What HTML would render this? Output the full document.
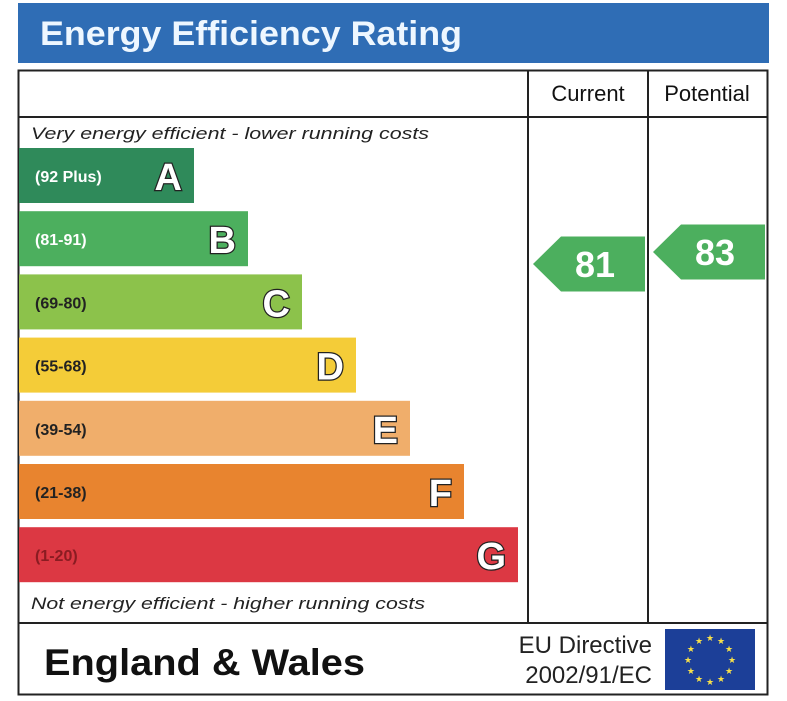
<!DOCTYPE html>
<html><head><meta charset="utf-8"><style>
html,body{margin:0;padding:0;background:#fff;}
svg{display:block;font-family:"Liberation Sans",Arial,sans-serif;}
</style></head><body>
<svg id="c" width="787" height="701" viewBox="0 0 787 701">
<rect x="18" y="3" width="751" height="60" fill="#2f6db5"/>
<text x="40" y="45" font-size="34" font-weight="bold" fill="#eef7ff" textLength="422" lengthAdjust="spacingAndGlyphs">Energy Efficiency Rating</text>
<rect x="18.5" y="70.5" width="749" height="624" fill="none" stroke="#222" stroke-width="2"/>
<line x1="18" y1="117" x2="768" y2="117" stroke="#222" stroke-width="2"/>
<line x1="528" y1="70" x2="528" y2="623" stroke="#222" stroke-width="2"/>
<line x1="648" y1="70" x2="648" y2="623" stroke="#222" stroke-width="2"/>
<line x1="18" y1="623" x2="768" y2="623" stroke="#222" stroke-width="2"/>
<text x="588" y="101" font-size="22" text-anchor="middle" fill="#111">Current</text>
<text x="707" y="101" font-size="22" text-anchor="middle" fill="#111">Potential</text>
<text x="31" y="139" font-size="17" font-style="italic" fill="#222" textLength="398" lengthAdjust="spacingAndGlyphs">Very energy efficient - lower running costs</text>
<text x="31" y="609" font-size="17" font-style="italic" fill="#222" textLength="394" lengthAdjust="spacingAndGlyphs">Not energy efficient - higher running costs</text>
<g id="bars"></g>
<g id="arrows"></g>
<text x="44" y="675" font-size="37" font-weight="bold" fill="#111" textLength="321" lengthAdjust="spacingAndGlyphs">England &amp; Wales</text>
<text x="652" y="653" font-size="24" text-anchor="end" fill="#222">EU Directive</text>
<text x="652" y="683" font-size="24" text-anchor="end" fill="#222">2002/91/EC</text>
<rect x="665" y="629" width="90" height="61" fill="#1c3f98"/>
<g id="stars"></g>
</svg>
<script>
const bandLabels = ["(92 Plus)","(81-91)","(69-80)","(55-68)","(39-54)","(21-38)","(1-20)"];
const bandLetters = ["A","B","C","D","E","F","G"];
const bandColors = ["#2f8a5a","#4caf5e","#8cc24b","#f4cc38","#f0ae6b","#e8842f","#dc3843"];
const ratingSeries = ["Current","Potential"];
const ratingValues = [81,83];
const NS="http://www.w3.org/2000/svg";
function mk(t,a,p){const e=document.createElementNS(NS,t);for(const k in a)e.setAttribute(k,a[k]);p.appendChild(e);return e;}
function bandY(i){return 148+i*63.2;}
function bandW(i){return 175+i*54;}
function valueY(v){return 264-(v-81)*6;}
const bars=document.getElementById('bars');
bandLabels.forEach((lab,i)=>{
  const y=bandY(i),w=bandW(i);
  const r=mk('rect',{x:19,y:y,width:w,height:55,fill:bandColors[i]},bars);
  
  
  const t=mk('text',{x:35,y:y+34,'font-size':16,'font-weight':'bold',fill:i==6?'#8a1c22':(i<2?'#fff':'#222')},bars);
  t.textContent=lab;
  
  
  const L=mk('text',{x:19+w-12,y:y+42,'font-size':38,'font-weight':'bold','text-anchor':'end',fill:'#fff',stroke:'#222','stroke-width':2.5,'paint-order':'stroke'},bars);
  L.textContent=bandLetters[i];
  
  
});
const arrows=document.getElementById('arrows');
const colX=[533,653];
ratingValues.forEach((v,i)=>{
  const yc=valueY(v),x=colX[i],h=55,w=112;
  const p=mk('polygon',{points:`${x},${yc} ${x+28},${yc-h/2} ${x+w},${yc-h/2} ${x+w},${yc+h/2} ${x+28},${yc+h/2}`,fill:'#4caf5e'},arrows);
  
  
  const t=mk('text',{x:x+62,y:yc+13,'font-size':36,'font-weight':'bold','text-anchor':'middle',fill:'#fff'},arrows);
  t.textContent=v;
  
  
});
const stars=document.getElementById('stars');
for(let k=0;k<12;k++){
  const a=k*Math.PI/6;
  const s=mk('text',{x:710+22*Math.sin(a),y:663-22*Math.cos(a),'font-size':9,'text-anchor':'middle',fill:'#f7e04a'},stars);
  s.textContent='★';
  
  
}
</script>
</body></html>
